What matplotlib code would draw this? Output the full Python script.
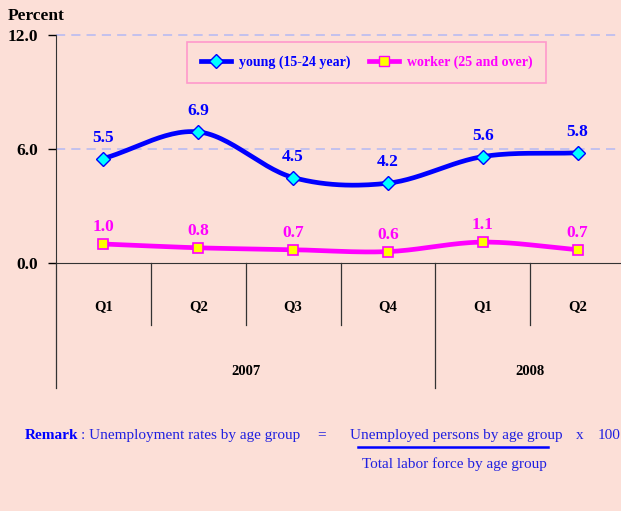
import numpy as np
import matplotlib.pyplot as plt

# Dados
quarters = ["Q1", "Q2", "Q3", "Q4", "Q1", "Q2"]
years = ["2007", "2008"]
year_spans = [(0, 3), (4, 5)]  # first/last quarter index of each year
young = np.array([5.5, 6.9, 4.5, 4.2, 5.6, 5.8])
worker = np.array([1.0, 0.8, 0.7, 0.6, 1.1, 0.7])
yticks = [0.0, 6.0, 12.0]

bg = "#FCDFD7"
blue = "#0000FF"
magenta = "#FF00FF"


def smooth(x, y, n=30):
    # Catmull-Rom curve through the points (like Excel's smoothed line)
    px = np.concatenate([[2 * x[0] - x[1]], x, [2 * x[-1] - x[-2]]])
    py = np.concatenate([[2 * y[0] - y[1]], y, [2 * y[-1] - y[-2]]])
    xs, ys = [], []
    t = np.linspace(0, 1, n)
    for i in range(1, len(px) - 2):
        for p, out in ((px, xs), (py, ys)):
            p0, p1, p2, p3 = p[i - 1], p[i], p[i + 1], p[i + 2]
            out.append(0.5 * (2 * p1 + (-p0 + p2) * t
                              + (2 * p0 - 5 * p1 + 4 * p2 - p3) * t**2
                              + (-p0 + 3 * p1 - 3 * p2 + p3) * t**3))
    return np.concatenate(xs), np.concatenate(ys)


plt.rcParams["font.family"] = ["Liberation Serif", "DejaVu Serif"]

fig = plt.figure(figsize=(6.21, 5.11), dpi=100, facecolor=bg)
ax = fig.add_axes([56 / 621, 1 - 263 / 511, 569 / 621, 228 / 511], facecolor=bg)

x = np.arange(len(quarters))
sx, sy = smooth(x, young)
ax.plot(sx, sy, color=blue, lw=3.4, solid_capstyle="round", zorder=3)
ax.plot(x, young, ls="none", marker="D", ms=7.5, mfc="#00FFFF", mec=blue, mew=1, zorder=4)
wx, wy = smooth(x, worker)
ax.plot(wx, wy, color=magenta, lw=3.4, zorder=3)
ax.plot(x, worker, ls="none", marker="s", ms=7, mfc="#FFFF00", mec=magenta, mew=1.2, zorder=4)

for xi, v in zip(x, young):
    ax.annotate(f"{v:.1f}", (xi, v), xytext=(0, 15), textcoords="offset points",
                ha="center", va="center", color=blue, fontsize=12.5, fontweight="bold")
for xi, v in zip(x, worker):
    ax.annotate(f"{v:.1f}", (xi, v), xytext=(0, 12), textcoords="offset points",
                ha="center", va="center", color=magenta, fontsize=12.5, fontweight="bold")

ax.set_xlim(-0.5, 5.5)
ax.set_ylim(0, 12)
ax.set_yticks(yticks)
ax.set_yticklabels([f"{v:.1f}" for v in yticks], fontsize=12.5, fontweight="bold")
ax.tick_params(axis="y", direction="out", length=6, width=1, pad=7)
ax.set_xticks([])
for v in yticks[1:]:
    ax.axhline(v, color="#B4B8F4", lw=1.1, ls=(0, (6, 4)), zorder=1, clip_on=False)
for s in ["top", "right"]:
    ax.spines[s].set_visible(False)
ax.spines["left"].set_color("#333333")
ax.spines["bottom"].set_color("#333333")
ax.spines["bottom"].set_position(("data", 0))

# category separators below the axis
for b in np.arange(-0.5, len(quarters)):
    long_line = b == -0.5 or b == 3.5
    ax.plot([b, b], [0, -6.58 if long_line else -3.26], color="#333333", lw=0.9, clip_on=False)
for xi, q in zip(x, quarters):
    ax.text(xi, -2.3, q, ha="center", va="center", fontsize=10.5, fontweight="bold")
for (a, b), yr in zip(year_spans, years):
    ax.text((a + b) / 2, -5.7, yr, ha="center", va="center", fontsize=10.5, fontweight="bold")

fig.text(8 / 621, 1 - 16 / 511, "Percent", fontsize=12.5, fontweight="bold", va="center")

# legend
leg = ax.legend(
    [plt.Line2D([], [], color=blue, lw=3.4, marker="D", ms=7.5, mfc="#00FFFF", mec=blue),
     plt.Line2D([], [], color=magenta, lw=3.4, marker="s", ms=7, mfc="#FFFF00", mec=magenta)],
    ["young (15-24 year)", "worker (25 and over)"],
    ncol=2, loc="upper left", bbox_to_anchor=(131 / 569, 1 - 7 / 228),
    frameon=True, fancybox=False, edgecolor="#FF99CC", facecolor=bg, framealpha=1,
    prop={"size": 10, "weight": "bold"}, handlelength=2.2, handletextpad=0.55,
    columnspacing=1.3, borderpad=1.0, borderaxespad=0)
leg.get_frame().set_linewidth(1.2)
for t, c in zip(leg.get_texts(), [blue, magenta]):
    t.set_color(c)

# remark
rc = "#2020E0"
fs = 11
ry = 1 - 435 / 511
fig.text(25 / 621, ry, "Remark", color=blue, fontsize=fs, fontweight="bold", va="center")
fig.text(81 / 621, ry, ": Unemployment rates by age group", color=rc, fontsize=fs, va="center")
fig.text(317 / 621, ry, "=", color=rc, fontsize=fs, va="center")
fig.text(350 / 621, ry, "Unemployed persons by age group", color=rc, fontsize=fs, va="center")
fig.text(576 / 621, ry, "x", color=rc, fontsize=fs, va="center")
fig.text(598 / 621, ry, "100", color=rc, fontsize=fs, va="center")
fig.add_artist(plt.Line2D([358 / 621, 548 / 621], [1 - 447 / 511] * 2, color=blue, lw=1.8))
fig.text(454 / 621, 1 - 464 / 511, "Total labor force by age group", color=rc, fontsize=fs,
         ha="center", va="center")

fig.savefig("out.png", dpi=100, facecolor=bg)
